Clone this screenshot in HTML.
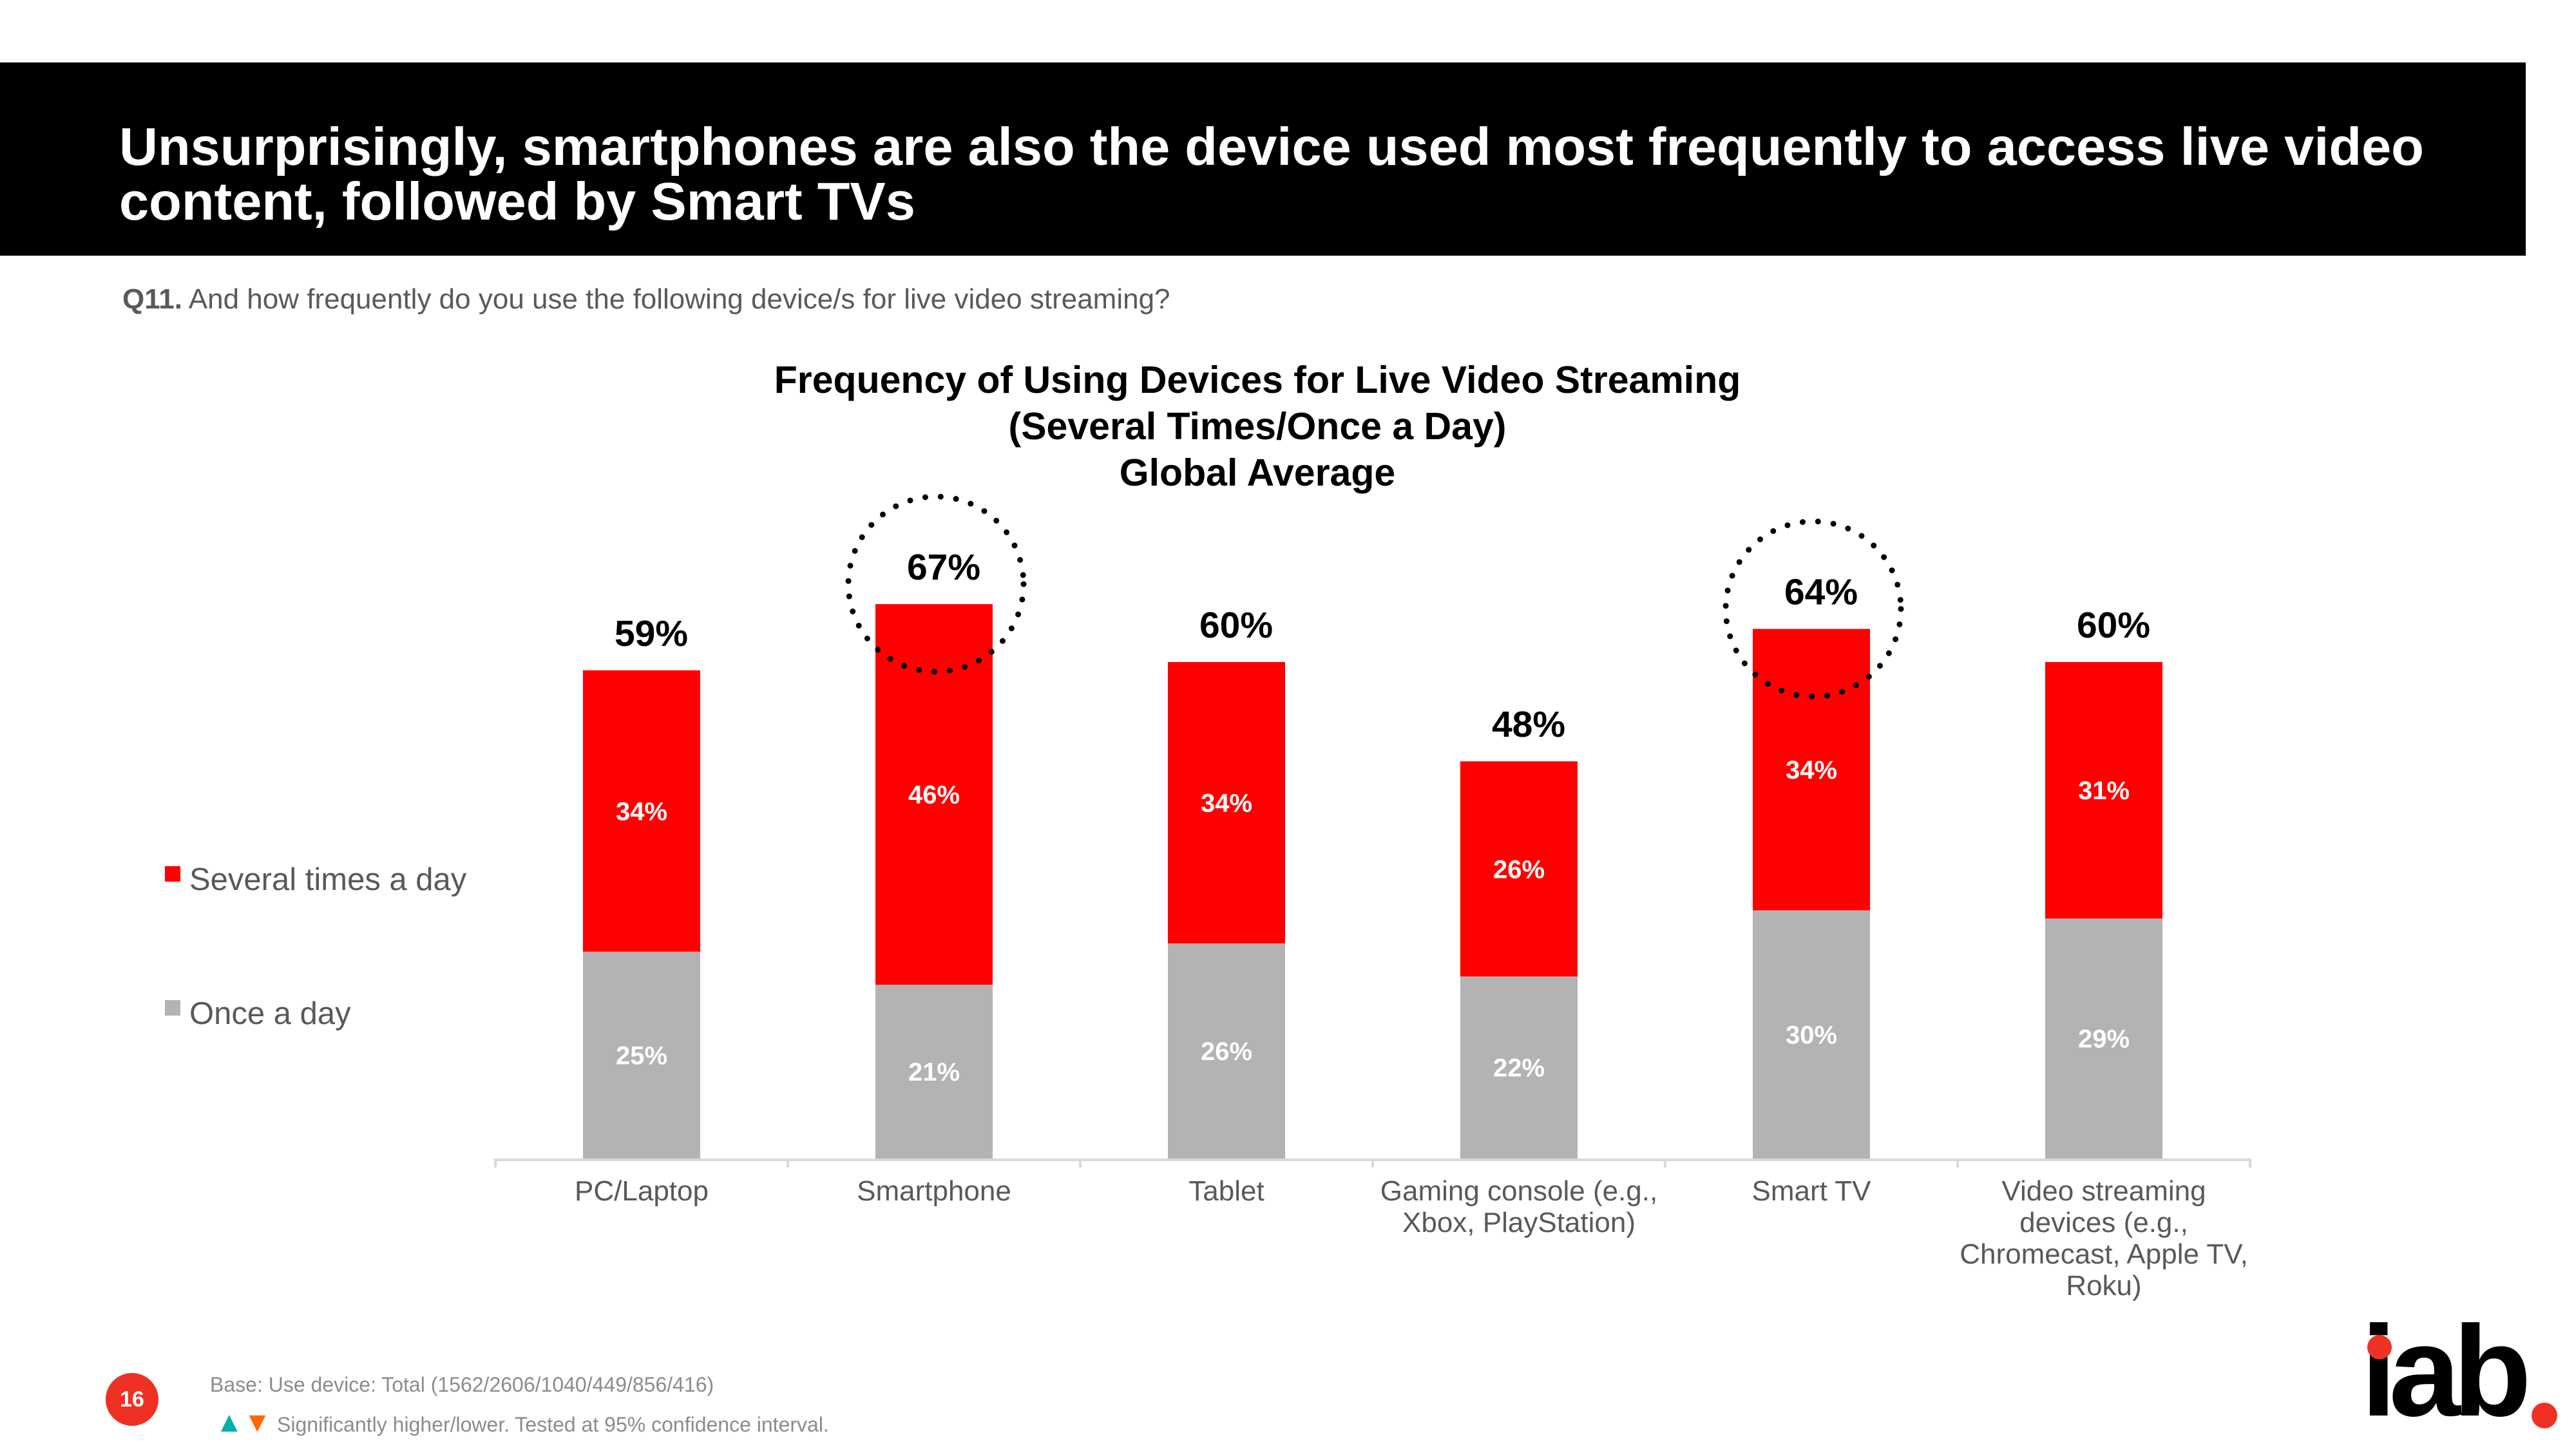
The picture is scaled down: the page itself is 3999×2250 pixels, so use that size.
<!DOCTYPE html>
<html><head><meta charset="utf-8"><style>
body{margin:0;width:3999px;height:2250px;background:#fff;overflow:hidden;font-family:"Liberation Sans",sans-serif;position:relative}
.abs{position:absolute}
</style></head><body>
<div class="abs" style="left:0;top:97px;width:3921px;height:300px;background:#000"></div>
<div class="abs" style="left:185px;top:185px;width:3750px;color:#fff;font-weight:bold;font-size:83px;line-height:85px">Unsurprisingly, smartphones are also the device used most frequently to access live video content, followed by Smart TVs</div>
<div class="abs" style="left:190px;top:440px;color:#595959;font-size:44px"><b>Q11.</b> And how frequently do you use the following device/s for live video streaming?</div>
<svg class="abs" style="left:0;top:0" width="3999" height="2250" id="chart"></svg>
<div class="abs" style="left:164px;top:2132px;width:82px;height:82px;border-radius:50%;background:#ee3124;color:#fff;font-weight:bold;font-size:34px;line-height:82px;text-align:center">16</div>
<div class="abs" style="left:326px;top:2132px;color:#8c8c8c;font-size:32px">Base: Use device: Total (1562/2606/1040/449/856/416)</div>
<div class="abs" style="left:334px;top:2184px;color:#8c8c8c;font-size:32px"><span style="color:#00b0a8;font-size:44px">▲</span><span style="color:#ff6a00;font-size:44px">▼</span> Significantly higher/lower. Tested at 95% confidence interval.</div>
<div class="abs" style="left:3665px;top:2020px;font-weight:bold;font-size:200px;letter-spacing:-12px;color:#000;line-height:220px">iab</div>
<div class="abs" style="left:3675px;top:2073px;width:38px;height:38px;border-radius:50%;background:#ee3124"></div>
<div class="abs" style="left:3930px;top:2178px;width:40px;height:40px;border-radius:50%;background:#ee3124"></div>
<script>
const categories=["PC/Laptop","Smartphone","Tablet","Gaming console (e.g.,|Xbox, PlayStation)","Smart TV","Video streaming|devices (e.g.,|Chromecast, Apple TV,|Roku)"];
const onceADay=[25,21,26,22,30,29];
const severalTimes=[34,46,34,26,34,31];
const totals=[59,67,60,48,64,60];
const highlighted=[1,4];
const NS="http://www.w3.org/2000/svg";
const svg=document.getElementById('chart');
const baseY=1799,pxPer=12.85,x0=769,band=454,barW=182;
const y=v=>baseY-v*pxPer;
const cx=i=>x0+band*i+band/2;
function mk(t,a,txt){const e=document.createElementNS(NS,t);for(const k in a)e.setAttribute(k,a[k]);if(txt!=null)e.textContent=txt;svg.appendChild(e);return e;}
const tl=["Frequency of Using Devices for Live Video Streaming","(Several Times/Once a Day)","Global Average"];
tl.forEach((s,i)=>{const e=mk('text',{x:1952,y:610+i*72,'text-anchor':'middle','font-size':59,'font-weight':'bold',fill:'#000'},s);

});
const ax=mk('line',{x1:x0,x2:x0+band*6,y1:baseY+2,y2:baseY+2,stroke:'#d9d9d9','stroke-width':4});


for(let i=0;i<=6;i++){const t=mk('line',{x1:x0+band*i,x2:x0+band*i,y1:baseY,y2:baseY+14,stroke:'#d9d9d9','stroke-width':4});

}
categories.forEach((c,i)=>{
 const x=cx(i)-barW/2;
 const g=mk('rect',{x:x,y:y(onceADay[i]),width:barW,height:onceADay[i]*pxPer,fill:'#b3b3b3'});
 
 
 const r=mk('rect',{x:x,y:y(onceADay[i]+severalTimes[i]),width:barW,height:severalTimes[i]*pxPer,fill:'#ff0000'});
 
 
 const l1=mk('text',{x:cx(i),y:y(onceADay[i]/2)+14,'text-anchor':'middle','font-size':40,'font-weight':'bold',fill:'#fff'},onceADay[i]+'%');
 
 
 const l2=mk('text',{x:cx(i),y:y(onceADay[i]+severalTimes[i]/2)+14,'text-anchor':'middle','font-size':40,'font-weight':'bold',fill:'#fff'},severalTimes[i]+'%');
 
 
 const top=y(onceADay[i]+severalTimes[i]);
 const tt=mk('text',{x:cx(i)+15,y:top-38,'text-anchor':'middle','font-size':57,'font-weight':'bold',fill:'#000'},totals[i]+'%');
 
 
 if(highlighted.includes(i)){const ci=mk('circle',{cx:cx(i)+3,cy:top-31,r:136,fill:'none',stroke:'#000','stroke-width':9,'stroke-dasharray':'0 24','stroke-linecap':'round'});
  
  }
 c.split('|').forEach((s,j)=>{const e=mk('text',{x:cx(i),y:1864+j*49,'text-anchor':'middle','font-size':44,fill:'#595959'},s);
  
  });
});
[["Several times a day","#ff0000",1365],["Once a day","#b3b3b3",1573]].forEach(([t,col,yy])=>{
 const s=mk('rect',{x:256,y:yy-20,width:24,height:24,fill:col});
 
 
 const e=mk('text',{x:294,y:yy+17,'font-size':49,fill:'#595959'},t);
 
 
});
</script>
</body></html>
